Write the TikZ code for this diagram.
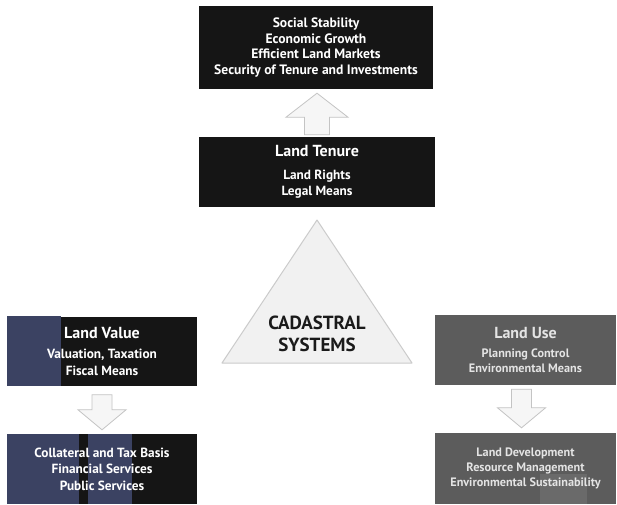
\documentclass[tikz,border=0pt]{standalone}
\usepackage{fontspec}
\setmainfont{PT Sans}
\usetikzlibrary{calc}
\definecolor{boxblack}{HTML}{151515}
\definecolor{navy}{HTML}{3B4262}
\definecolor{boxgrey}{HTML}{5C5C5C}
\definecolor{greytext}{HTML}{E4E4E4}
\definecolor{patchgrey}{HTML}{6A6A6A}
\definecolor{arrowfill}{HTML}{F6F6F6}
\definecolor{arrowedge}{HTML}{C4C4C4}
\definecolor{trifill}{HTML}{F1F1F1}
\definecolor{triedge}{HTML}{CBCBCB}
\definecolor{tritext}{HTML}{1A1A1A}
\tikzset{
  box/.style={fill=boxblack, text=white, align=center, inner sep=0pt,
    font=\bfseries\fontsize{13.3}{16.5}\selectfont},
  greybox/.style={box, fill=boxgrey, text=greytext,
    font=\bfseries\fontsize{12.2}{15}\selectfont},
  blk/.style={fill=arrowfill, draw=arrowedge, line width=0.8pt, line join=miter},
  tri/.style={fill=trifill, draw=triedge, line width=1pt, line join=round},
}
\newcommand\ttl[1]{{\fontsize{16}{18}\selectfont #1}}
% #1 start, #2 tip, #3 direction (1 up, -1 down), #4 shaft half width, #5 head half width, #6 head length
\newcommand\blkarrow[6]{%
  \draw[blk] let \p1=(#1), \p2=(#2) in
    ({\x1-#4pt},\y1) -- ({\x1-#4pt},{\y2-#3*#6pt}) -- ({\x1-#5pt},{\y2-#3*#6pt}) -- (\x1,\y2)
    -- ({\x1+#5pt},{\y2-#3*#6pt}) -- ({\x1+#4pt},{\y2-#3*#6pt}) -- ({\x1+#4pt},\y1) -- cycle;}
\begin{document}
\begin{tikzpicture}[x=1pt,y=1pt]
\useasboundingbox (0,0) rectangle (617,-504);
\fill[white] (0,0) rectangle (617,-504);

% top goals
\node[box, minimum width=234, minimum height=83, font=\bfseries\fontsize{13.6}{15.7}\selectfont]
  (top) at (316,-47.5)
  {Social Stability\\Economic Growth\\Efficient Land Markets\\Security of Tenure and Investments};

% land tenure
\node[box, minimum width=236, minimum height=70] (tenure) at (317,-172)
  {\ttl{Land Tenure}\\[6pt]Land Rights\\Legal Means};

% land value
\node[box, minimum width=190, minimum height=69,
  path picture={\fill[navy] (path picture bounding box.south west) rectangle ++(54,70);}]
  (value) at (102,-351)
  {\ttl{Land Value}\\[4pt]Valuation, Taxation\\Fiscal Means};

% collateral
\node[box, minimum width=190, minimum height=70,
  path picture={\fill[navy] (path picture bounding box.south west) rectangle ++(72,70);
                \fill[navy] ($(path picture bounding box.south west)+(81,0)$) rectangle ++(44,70);}]
  (coll) at (102,-469)
  {Collateral and Tax Basis\\Financial Services\\Public Services};

% land use
\node[greybox, minimum width=181, minimum height=70] (use) at (525.5,-350)
  {\ttl{Land Use}\\[4pt]Planning Control\\Environmental Means};

% land development
\node[greybox, minimum width=181, minimum height=71,
  path picture={\fill[patchgrey] ($(path picture bounding box.south west)+(105,0)$) rectangle ++(47,30);}]
  (dev) at (525.5,-468.5)
  {Land Development\\Resource Management\\Environmental Sustainability};

% triangle
\draw[tri] (317,-220) -- (412,-363) -- (222,-363) -- cycle;
\node[text=tritext, align=center, font=\bfseries\fontsize{19}{22}\selectfont] (cad) at (317,-334)
  {CADASTRAL\\SYSTEMS};

% block arrows
\coordinate (a1s) at ($(tenure.north)+(0,2)$);
\coordinate (a1e) at ($(top.south)+(0,-4)$);
\blkarrow{a1s}{a1e}{1}{12.5}{31}{24}
\coordinate (a2s) at ($(value.south)+(0,-9)$);
\coordinate (a2e) at ($(coll.north)+(0,4)$);
\blkarrow{a2s}{a2e}{-1}{10}{24}{20}
\coordinate (a3s) at ($(use.south)+(-4,-4)$);
\coordinate (a3e) at ($(dev.north)+(-4,5)$);
\blkarrow{a3s}{a3e}{-1}{10}{24}{20}
\end{tikzpicture}
\end{document}
